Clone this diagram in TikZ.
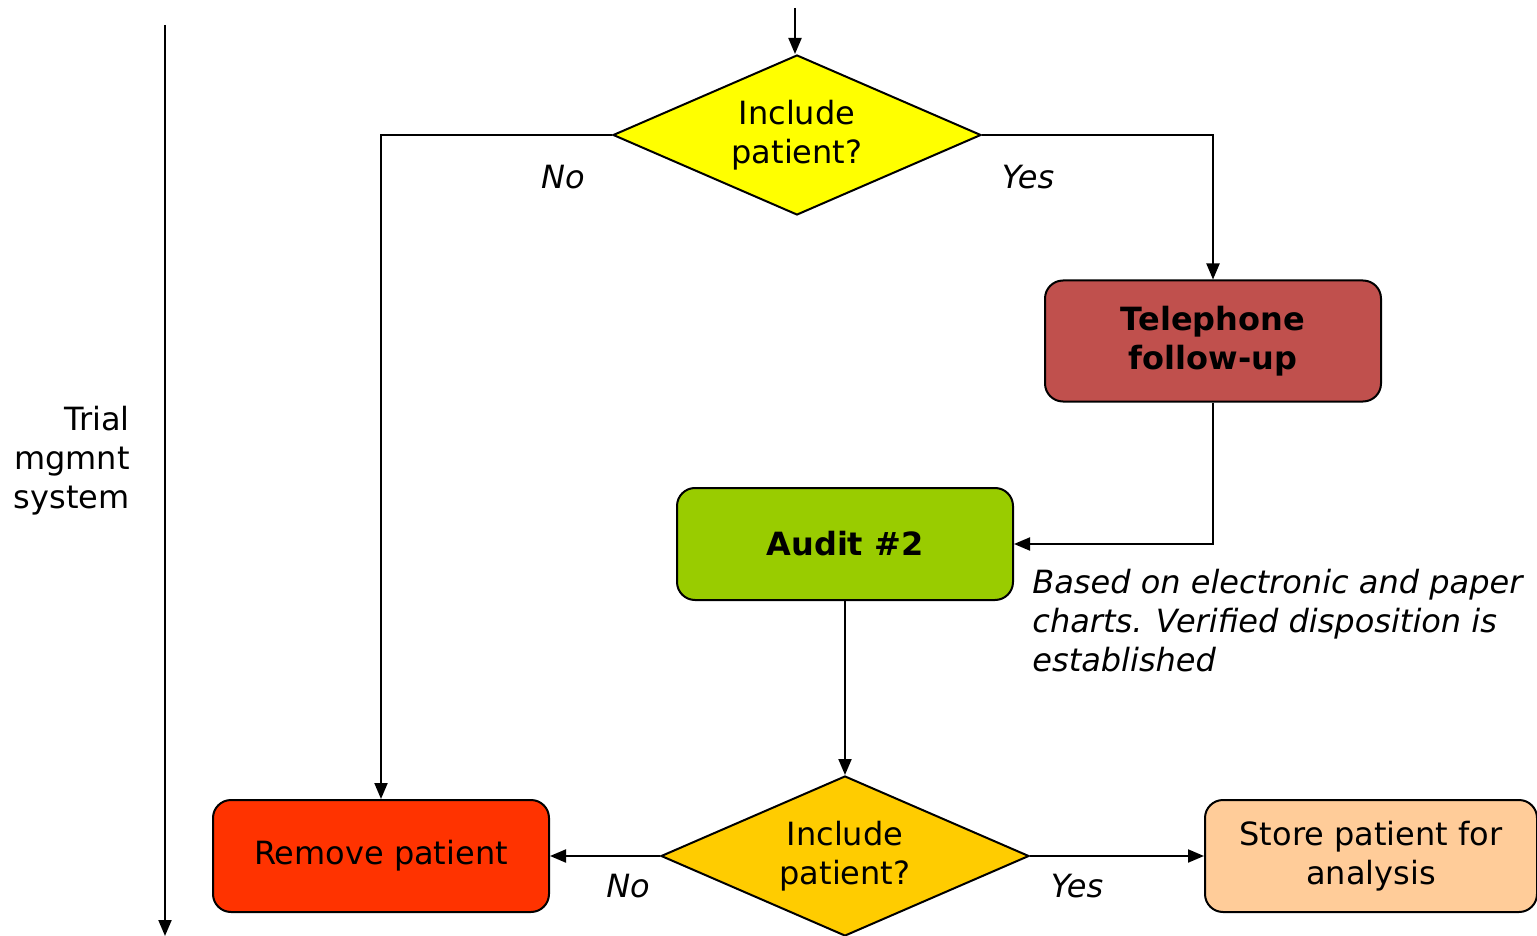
\documentclass[tikz,border=0pt]{standalone}
\usepackage{fontspec}
\setmainfont{DejaVu Sans}
\usepackage{tikz}
\usetikzlibrary{arrows.meta,positioning,shapes.geometric,calc}
\definecolor{incyellow}{HTML}{FFFF00}
\definecolor{incgold}{HTML}{FFCC00}
\definecolor{telred}{HTML}{C0504D}
\definecolor{auditgreen}{HTML}{99CC00}
\definecolor{removered}{HTML}{FF3300}
\definecolor{storepeach}{HTML}{FFCC99}

\begin{document}
\begin{tikzpicture}[
  x=0.5pt, y=-0.5pt,
  font=\fontsize{16}{19.5}\selectfont,
  box/.style={rectangle, draw, line width=1pt, minimum width=168pt, minimum height=56pt,
              align=center, rounded corners=9pt},
  decision/.style={diamond, draw, line width=1pt, aspect=2.3, inner sep=0pt,
              minimum width=184pt, minimum height=80pt, align=center},
  lbl/.style={font=\fontsize{16}{19.5}\selectfont\itshape},
  arr/.style={-{Triangle[length=8pt,width=6.5pt]}, line width=1pt}
]
  \useasboundingbox (0,0) rectangle (1537,936);
  \coordinate (tl) at (165,25);
  \coordinate (bl) at (165,936);
  \coordinate (top) at (795,8);
  \node[anchor=east, align=right, inner sep=0pt] (trial) at (130,461) {Trial\\ mgmnt\\ system};
  \node[decision, fill=incyellow] (inc1) at (797,135) {Include\\ patient?};
  \node[box, fill=telred, font=\fontsize{16}{19.5}\selectfont\bfseries, minimum height=60.5pt] (tel) at (1213,341) {Telephone\\ follow-up};
  \node[box, fill=auditgreen, font=\fontsize{16}{19.5}\selectfont\bfseries] (audit) at (845,544) {Audit \#2};
  \node[anchor=west, align=left, inner sep=0pt, lbl] (note) at (1032,621) {Based on electronic and paper\\ charts. Verified disposition is\\ established};
  \node[decision, fill=incgold] (inc2) at (845,856) {Include\\ patient?};
  \node[box, fill=removered] (remove) at (381,856) {Remove patient};
  \node[box, fill=storepeach, minimum width=166pt] (store) at (1371,856) {Store patient for\\ analysis};
  \node[lbl] (no1) at (563,177) {No};
  \node[lbl] (yes1) at (1028,177) {Yes};
  \node[lbl] (no2) at (628,886) {No};
  \node[lbl] (yes2) at (1077,886) {Yes};
  \draw[arr] (tl) -- (bl);
  \draw[arr] (top) -- (top |- inc1.north);
  \draw[arr] (inc1.west) -| (remove.north);
  \draw[arr] (inc1.east) -| (tel.north);
  \draw[arr] (tel.south) |- (audit.east);
  \draw[arr] (audit.south) -- (inc2.north);
  \draw[arr] (inc2.west) -- (remove.east);
  \draw[arr] (inc2.east) -- (store.west);
\end{tikzpicture}
\end{document}
